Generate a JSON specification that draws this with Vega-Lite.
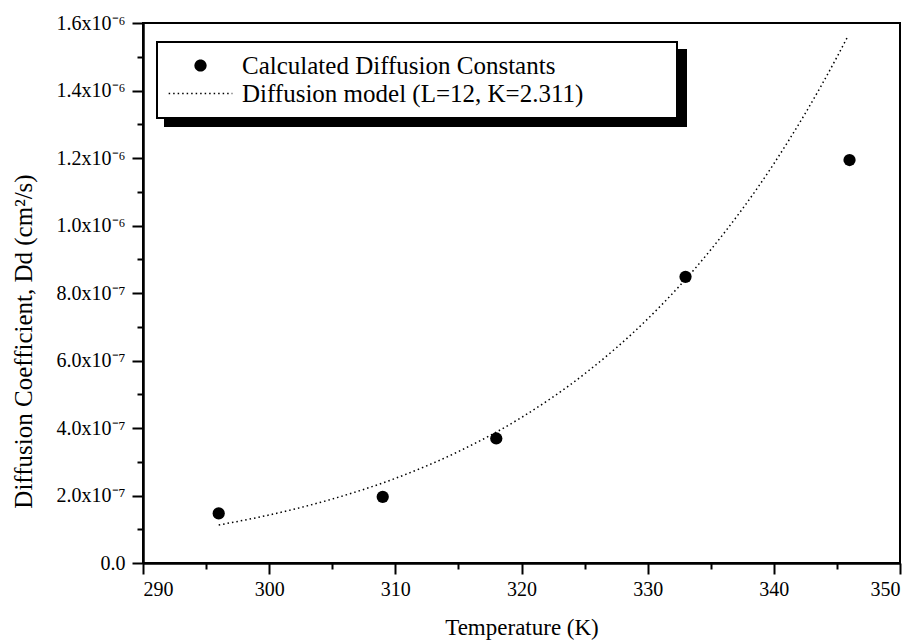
{
  "$schema": "https://vega.github.io/schema/vega-lite/v6.json",
  "width": 757,
  "height": 540,
  "autosize": "none",
  "padding": {"left": 143, "top": 23, "right": 17, "bottom": 80},
  "background": "white",
  "config": {
    "view": {"stroke": "black", "strokeWidth": 2},
    "font": "Liberation Serif",
    "axis": {
      "labelFont": "Liberation Serif",
      "titleFont": "Liberation Serif",
      "labelColor": "black",
      "titleColor": "black",
      "domainColor": "black",
      "tickColor": "black",
      "grid": false,
      "labelFontSize": 20,
      "titleFontSize": 23,
      "titleFontWeight": "normal",
      "domainWidth": 2.5,
      "tickWidth": 2
    },
    "legend": {"strokeWidth": 2, "labelFont": "Liberation Serif"}
  },
  "datasets": {
    "points": [
      {"T": 296, "D": 1.47e-7, "series": "Calculated Diffusion Constants", "series2": "A1"},
      {"T": 309, "D": 1.96e-7, "series": "Calculated Diffusion Constants", "series2": "A1"},
      {"T": 318, "D": 3.69e-7, "series": "Calculated Diffusion Constants", "series2": "A1"},
      {"T": 333, "D": 8.48e-7, "series": "Calculated Diffusion Constants", "series2": "A1"},
      {"T": 346, "D": 1.194e-6, "series": "Calculated Diffusion Constants", "series2": "A1"}
    ],
    "model": [
      {"T": 296, "D": 1.126e-7, "series": "Diffusion model (L=12, K=2.311)"},
      {"T": 300, "D": 1.423e-7, "series": "Diffusion model (L=12, K=2.311)"},
      {"T": 305, "D": 1.896e-7, "series": "Diffusion model (L=12, K=2.311)"},
      {"T": 310, "D": 2.508e-7, "series": "Diffusion model (L=12, K=2.311)"},
      {"T": 315, "D": 3.302e-7, "series": "Diffusion model (L=12, K=2.311)"},
      {"T": 320, "D": 4.313e-7, "series": "Diffusion model (L=12, K=2.311)"},
      {"T": 325, "D": 5.604e-7, "series": "Diffusion model (L=12, K=2.311)"},
      {"T": 330, "D": 7.233e-7, "series": "Diffusion model (L=12, K=2.311)"},
      {"T": 335, "D": 9.281e-7, "series": "Diffusion model (L=12, K=2.311)"},
      {"T": 340, "D": 1.183e-6, "series": "Diffusion model (L=12, K=2.311)"},
      {"T": 345, "D": 1.499e-6, "series": "Diffusion model (L=12, K=2.311)"},
      {"T": 345.8, "D": 1.556e-6, "series": "Diffusion model (L=12, K=2.311)"}
    ]
  },
  "layer": [
    {
      "data": {"name": "model"},
      "mark": {"type": "line", "strokeDash": [1.5, 3], "strokeWidth": 1.5, "interpolate": "monotone"},
      "encoding": {
        "x": {
          "field": "T", "type": "quantitative",
          "scale": {"domain": [290, 350], "nice": false, "zero": false},
          "axis": {"orient": "bottom", "values": [290, 300, 310, 320, 330, 340, 350], "format": "d", "tickSize": 11, "labelPadding": 5, "title": "Temperature (K)", "titlePadding": 17}
        },
        "y": {
          "field": "D", "type": "quantitative",
          "scale": {"domain": [0, 1.6e-6], "nice": false, "zero": true},
          "axis": {
            "orient": "left",
            "values": [0, 2e-7, 4e-7, 6e-7, 8e-7, 1e-6, 1.2e-6, 1.4e-6, 1.6e-6],
            "tickSize": 11, "labelPadding": 7,
            "labelExpr": "datum.value < 1e-9 ? '0.0' : (datum.value > 0.95e-6 ? format(datum.value * 1e6, '.1f') + 'x10⁻⁶' : format(datum.value * 1e7, '.1f') + 'x10⁻⁷')",
            "title": "Diffusion Coefficient, Dd (cm²/s)",
            "titleFontSize": 25,
            "titleX": -120, "titleY": 318, "titleBaseline": "middle", "titleAlign": "center", "titleAngle": -90
          }
        },
        "color": {
          "field": "series", "type": "nominal",
          "scale": {"domain": ["Calculated Diffusion Constants", "Diffusion model (L=12, K=2.311)"], "range": ["black", "black"]},
          "legend": {
            "title": null, "orient": "none", "legendX": 14, "legendY": 19, "zindex": 2,
            "fillColor": "white", "strokeColor": "black", "padding": 11,
            "symbolSize": 150, "symbolOffset": 20, "labelOffset": 29,
            "labelFontSize": 25, "labelColor": "black", "labelLimit": 0, "rowPadding": 2,
            "encode": {
              "symbols": {
                "update": {
                  "shape": {"signal": "datum.value === 'Calculated Diffusion Constants' ? 'M1,0A1,1,0,1,1,-1,0A1,1,0,1,1,1,0ZM75.5,0' : 'M-5.2,0L5.2,0M75.5,0'"},
                  "fill": {"signal": "datum.value === 'Calculated Diffusion Constants' ? 'black' : 'transparent'"},
                  "stroke": {"value": "black"},
                  "strokeDash": {"signal": "datum.value === 'Calculated Diffusion Constants' ? [1, 0] : [1.5, 3]"},
                  "strokeWidth": {"signal": "datum.value === 'Calculated Diffusion Constants' ? 0 : 1.5"},
                  "opacity": {"value": 1}
                }
              }
            }
          }
        }
      }
    },
    {
      "data": {"name": "points"},
      "mark": {"type": "point", "filled": true, "size": 150},
      "encoding": {
        "x": {
          "field": "T", "type": "quantitative",
          "scale": {"domain": [290, 350], "nice": false, "zero": false},
          "axis": {"orient": "bottom", "values": [295, 305, 315, 325, 335, 345], "tickSize": 6, "labels": false, "domain": false, "title": null}
        },
        "y": {
          "field": "D", "type": "quantitative",
          "scale": {"domain": [0, 1.6e-6], "nice": false, "zero": true},
          "axis": {"orient": "left", "values": [1e-7, 3e-7, 5e-7, 7e-7, 9e-7, 1.1e-6, 1.3e-6, 1.5e-6], "tickSize": 6, "labels": false, "domain": false, "title": null}
        },
        "color": {
          "field": "series", "type": "nominal",
          "scale": {"domain": ["Calculated Diffusion Constants", "Diffusion model (L=12, K=2.311)"], "range": ["black", "black"]}
        },
        "opacity": {
          "field": "series2", "type": "nominal",
          "scale": {"domain": ["A1", "A2"], "range": [1, 1]},
          "legend": {
            "title": null, "orient": "none", "legendX": 22, "legendY": 27, "zindex": 1,
            "fillColor": "black", "strokeColor": "black", "padding": 11,
            "symbolSize": 150, "symbolOffset": 20, "labelOffset": 29,
            "labelFontSize": 25, "labelColor": "black", "labelLimit": 0, "rowPadding": 2,
            "symbolFillColor": "black", "symbolStrokeColor": "black",
            "labelExpr": "'\u200b' + pad('', 68, '\u00a0') + '\u200b'"
          }
        }
      }
    }
  ],
  "resolve": {"axis": {"x": "independent", "y": "independent"}}
}
